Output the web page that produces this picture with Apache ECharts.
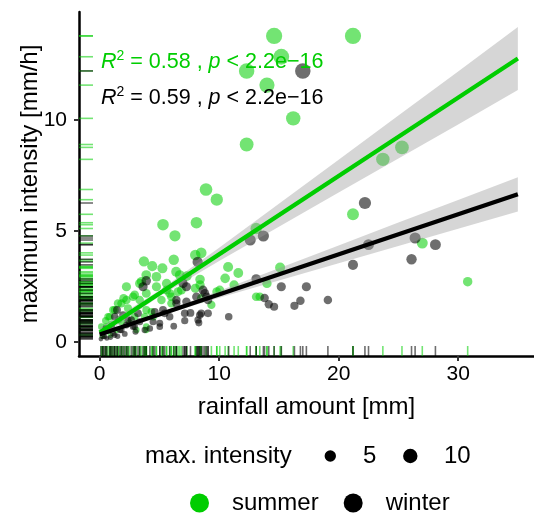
<!DOCTYPE html>
<html>
<head>
<meta charset="utf-8">
<script src="https://cdn.jsdelivr.net/npm/echarts@6/dist/echarts.min.js"></script>
<style>html,body{margin:0;padding:0;background:#fff}#c{width:534px;height:514px}</style>
</head>
<body>
<div id="c"></div>
<script>
// ---------- data ----------
const summerPoints = [
  [21.2,13.8],[14.6,13.8],[15.2,12.86],[12.3,12.22],[14.0,11.58],[16.2,10.08],[12.3,8.9],
  [25.3,8.77],[23.7,8.23],[8.9,6.87],[9.8,6.41],[21.2,5.75],[8.1,5.37],[5.3,5.28],[13.1,5.11],
  [6.3,4.78],[27.0,4.45],[8.5,4.01],[8.0,3.91],[6.2,3.7],[3.7,3.63],[4.4,3.41],[5.25,3.31],
  [10.75,3.37],[11.6,3.1],[15.1,3.35],[6.4,3.16],[7.3,2.96],[8.4,2.81],[3.9,3.01],[6.7,3.01],
  [4.75,2.93],[10.5,2.86],[3.5,2.71],[30.8,2.71],[3.35,2.63],[5.6,2.63],[14.0,2.63],[11.25,2.56],
  [8.4,2.56],[4.75,2.48],[2.24,2.48],[8.0,2.41],[5.6,2.33],[6.84,2.33],[10.05,2.33],[9.8,2.26],
  [6.56,2.26],[3.9,2.18],[5.86,2.18],[2.93,2.11],[6.0,2.03],[2.8,2.03],[13.1,2.03],[13.4,2.03],
  [2.0,1.96],[8.5,1.96],[2.24,1.88],[3.35,1.88],[5.17,1.88],[1.53,1.73],[1.82,1.73],[6.0,1.73],
  [9.35,1.66],[2.37,1.51],[1.12,1.43],[3.9,1.43],[1.26,1.43],[4.33,1.35],[0.84,1.13],[4.47,1.13],
  [2.93,1.13],[3.77,1.13],[0.7,1.13],[1.82,0.9],[3.9,0.68],[0.56,0.68],[0.14,0.68],[3.07,0.53],
  [1.4,0.53],[3.9,0.53],[0.3,0.35],[0.5,0.95],[1.0,0.8],[0.2,0.25],[1.6,1.0],[2.5,0.85],[0.9,0.3]
];
const winterPoints = [
  [17.0,12.22],[22.2,6.26],[13.7,4.77],[26.4,4.68],[12.6,4.59],[22.5,4.38],[28.1,4.38],[26.1,3.72],
  [8.2,3.6],[21.2,3.47],[13.1,2.83],[3.9,2.75],[6.98,2.63],[7.26,2.48],[3.63,2.48],[15.2,2.48],
  [17.3,2.48],[8.65,2.33],[8.8,2.18],[8.94,2.03],[8.1,2.03],[13.8,1.97],[9.07,1.88],[6.42,1.88],
  [19.1,1.88],[16.8,1.85],[7.26,1.8],[6.42,1.73],[14.15,1.69],[16.3,1.62],[14.6,1.58],[5.3,1.43],
  [1.45,1.43],[4.61,1.35],[7.12,1.28],[7.6,1.3],[8.5,1.28],[9.07,1.28],[3.21,1.28],[5.44,1.28],
  [1.95,1.2],[8.38,1.2],[5.86,1.13],[10.8,1.13],[1.26,1.13],[2.37,0.98],[2.65,0.98],[8.23,0.98],
  [7.12,0.95],[3.35,0.9],[4.47,0.9],[8.3,0.85],[5.03,0.83],[2.24,0.75],[2.8,0.68],[2.93,0.68],
  [5.03,0.68],[0.84,0.53],[1.7,0.53],[1.82,0.53],[3.77,0.53],[1.12,0.38],[1.26,0.3],[0.28,0.23],
  [0.42,0.23],[0.1,0.12],[0.6,0.15],[0.25,0.4],[0.9,0.2],[1.5,0.25],[2.1,0.35],[0.5,0.6],
  [1.0,0.7],[3.0,0.45],[4.2,0.6],[6.2,0.7]
];
// fitted lines and confidence bands
const fitX = [0, 35];
const summerFit = [0.41, 12.78];
const winterFit = [0.33, 6.65];
const bandX = [0, 5, 10, 15, 20, 25, 30, 35];
const summerLower = [0.19, 2.05, 3.64, 5.19, 6.73, 8.27, 9.80, 11.36];
const summerUpper = [0.63, 2.31, 4.24, 6.23, 8.21, 10.21, 12.20, 14.20];
const winterLower = [0.21, 1.16, 1.98, 2.76, 3.54, 4.32, 5.10, 5.88];
const winterUpper = [0.45, 1.30, 2.30, 3.32, 4.34, 5.38, 6.40, 7.42];
const xTicks = [0, 10, 20, 30];
const yTicks = [0, 5, 10];
const sizeLegendValues = [5, 10];
const seriesNames = ['summer', 'winter'];
const annotations = ['0.58', '0.59'];

// ---------- styling ----------
const GREEN = '#00CD00';
const FONT = '"Liberation Sans", Arial, Helvetica, sans-serif';
const greenA = 'rgba(0,205,0,0.55)';
const blackA = 'rgba(0,0,0,0.57)';
const sizeOf = v => 4.2 + 12 * Math.sqrt(Math.max(0, (v - 0.1) / 13.7));

function rugSeries(points, color) {
  return {
    type: 'custom', coordinateSystem: 'cartesian2d', data: points, z: 3, silent: true,
    renderItem: function (params, api) {
      const p = api.coord([api.value(0), api.value(1)]);
      const cs = params.coordSys;
      const yb = cs.y + cs.height;
      return { type: 'group', children: [
        { type: 'line', shape: { x1: p[0], y1: yb, x2: p[0], y2: yb - 10 }, style: { stroke: color, lineWidth: 1.6 } },
        { type: 'line', shape: { x1: cs.x, y1: p[1], x2: cs.x + 14, y2: p[1] }, style: { stroke: color, lineWidth: 1.6 } }
      ]};
    }
  };
}
function bandSeries(lower, upper) {
  return {
    type: 'custom', coordinateSystem: 'cartesian2d', data: [[bandX[0], lower[0]]], z: 4, silent: true,
    renderItem: function (params, api) {
      const pts = [];
      for (let i = 0; i < bandX.length; i++) pts.push(api.coord([bandX[i], upper[i]]));
      for (let i = bandX.length - 1; i >= 0; i--) pts.push(api.coord([bandX[i], lower[i]]));
      return { type: 'polygon', shape: { points: pts }, style: { fill: 'rgba(153,153,153,0.4)' } };
    }
  };
}
function fitSeries(vals, color) {
  return {
    type: 'line', data: fitX.map((x, i) => [x, vals[i]]), symbol: 'none', z: 5, silent: true,
    lineStyle: { color: color, width: 4.2 }, itemStyle: { color: color }
  };
}

const chart = echarts.init(document.getElementById('c'), null, { renderer: 'canvas' });
const axisCommon = {
  type: 'value', splitLine: { show: false },
  axisLine: { onZero: false, lineStyle: { color: '#000', width: 2.5 } },
  axisTick: { length: 5, lineStyle: { color: '#333', width: 2 } },
  nameLocation: 'middle',
  nameTextStyle: { fontSize: 24, color: '#000', fontFamily: FONT }
};
function annot(r2) {
  return '{i|R}{s|2}{n| = ' + r2 + ' , }{i|p}{n| < 2.2e\u221216}';
}
function richFor(color) {
  return {
    i: { fontSize: 21.5, fontStyle: 'italic', fill: color, fontFamily: FONT, lineHeight: 26 },
    n: { fontSize: 21.5, fill: color, fontFamily: FONT, lineHeight: 26 },
    s: { fontSize: 14, fill: color, fontFamily: FONT, verticalAlign: 'top', lineHeight: 26 }
  };
}

chart.setOption({
  animation: false,
  grid: { left: 79, right: 0, top: 12, bottom: 158 },
  xAxis: Object.assign({}, axisCommon, {
    min: -1.73, max: 36.35, name: 'rainfall amount [mm]', nameGap: 39,
    axisTick: Object.assign({}, axisCommon.axisTick, { customValues: xTicks }),
    axisLabel: { customValues: xTicks, fontSize: 21, color: '#000', margin: 8, fontFamily: FONT }
  }),
  yAxis: Object.assign({}, axisCommon, {
    min: -0.645, max: 14.88, name: 'maximum intensity [mm/h]', nameGap: 37, nameMoveOverlap: false,
    axisTick: Object.assign({}, axisCommon.axisTick, { customValues: yTicks }),
    axisLabel: { customValues: yTicks, fontSize: 21, color: '#000', margin: 12, fontFamily: FONT }
  }),
  legend: {
    data: [
      { name: seriesNames[0], itemStyle: { color: GREEN, opacity: 1 } },
      { name: seriesNames[1], itemStyle: { color: '#000', opacity: 1 } }
    ],
    icon: 'circle', itemWidth: 19, itemHeight: 19, itemGap: 25,
    left: 190, top: 491, padding: 0,
    textStyle: { fontSize: 24, color: '#000', fontFamily: FONT, padding: [0, 0, 0, 18] }
  },
  graphic: [
    { type: 'text', left: 101, top: 49, z: 10,
      style: { text: annot(annotations[0]), rich: richFor(GREEN), fill: GREEN, font: '21.5px ' + FONT } },
    { type: 'text', left: 101, top: 85, z: 10,
      style: { text: annot(annotations[1]), rich: richFor('#000'), fill: '#000', font: '21.5px ' + FONT } },
    { type: 'text', left: 145, top: 444,
      style: { text: 'max. intensity', fill: '#000', font: '24px ' + FONT } },
    { type: 'circle', shape: { cx: 330.3, cy: 456, r: sizeOf(sizeLegendValues[0]) / 2 }, style: { fill: '#000' } },
    { type: 'text', left: 363, top: 444, style: { text: String(sizeLegendValues[0]), fill: '#000', font: '24px ' + FONT } },
    { type: 'circle', shape: { cx: 410.3, cy: 456, r: sizeOf(sizeLegendValues[1]) / 2 }, style: { fill: '#000' } },
    { type: 'text', left: 444, top: 444, style: { text: String(sizeLegendValues[1]), fill: '#000', font: '24px ' + FONT } }
  ],
  series: [
    { name: seriesNames[0], type: 'scatter', data: summerPoints, z: 2,
      symbolSize: v => sizeOf(v[1]), itemStyle: { color: greenA, opacity: 1 } },
    { name: seriesNames[1], type: 'scatter', data: winterPoints, z: 2,
      symbolSize: v => sizeOf(v[1]), itemStyle: { color: blackA, opacity: 1 } },
    rugSeries(summerPoints, greenA),
    rugSeries(winterPoints, blackA),
    bandSeries(summerLower, summerUpper),
    bandSeries(winterLower, winterUpper),
    fitSeries(summerFit, GREEN),
    fitSeries(winterFit, '#000')
  ]
});
</script>
</body>
</html>
